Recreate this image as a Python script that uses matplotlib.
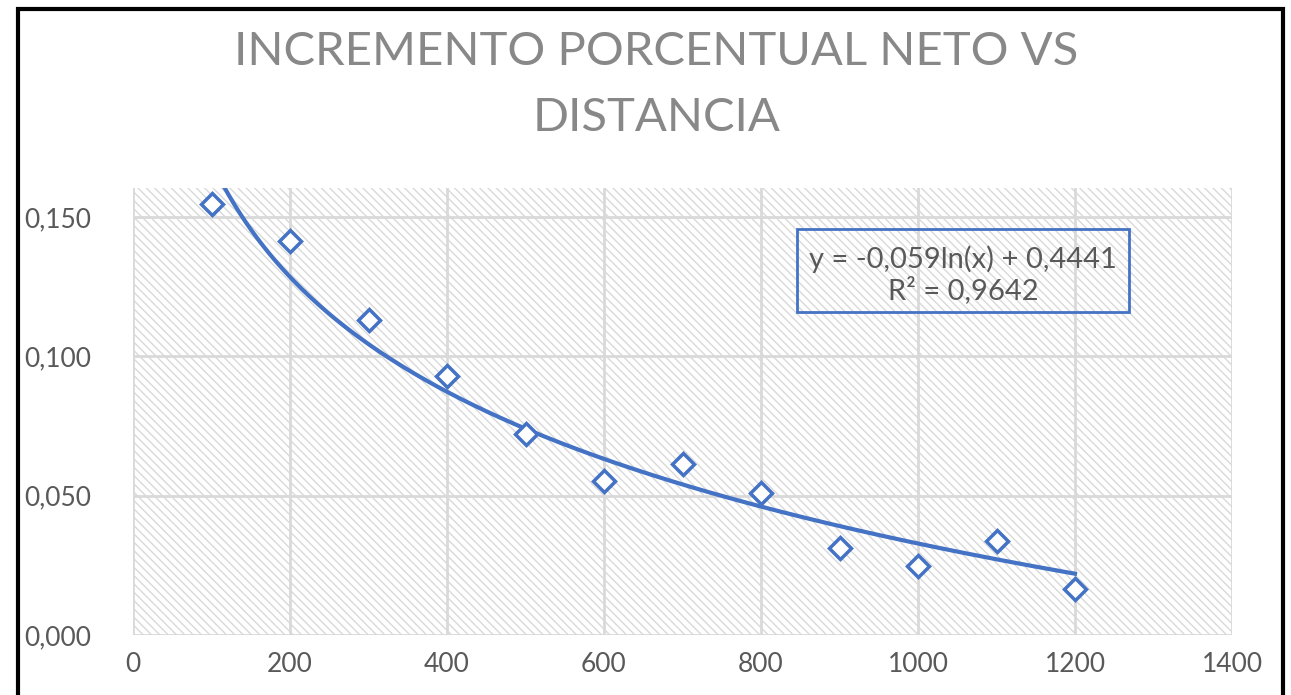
import numpy as np
import matplotlib
matplotlib.use("Agg")
import matplotlib.pyplot as plt
from matplotlib.patches import Rectangle
from matplotlib.ticker import FuncFormatter

# Data
distance = [100, 200, 300, 400, 500, 600, 700, 800, 900, 1000, 1100, 1200]
increment = [0.1547, 0.1414, 0.1131, 0.0930, 0.0721, 0.0553, 0.0614, 0.0510,
             0.0312, 0.0248, 0.0337, 0.0165]
title_line1 = "INCREMENTO PORCENTUAL NETO VS"
title_line2 = "DISTANCIA"
eq_text = "y = -0,059ln(x) + 0,4441\nR² = 0,9642"
x_ticks = [0, 200, 400, 600, 800, 1000, 1200, 1400]
y_ticks = [0.0, 0.05, 0.10, 0.15]

BLUE = "#4472c4"
GRID = "#d9d9d9"
TXT = "#595959"

plt.rcParams['font.family'] = ['Lato', 'DejaVu Sans']
plt.rcParams['hatch.color'] = "#dcdcdc"
plt.rcParams['hatch.linewidth'] = 1.0

fig = plt.figure(figsize=(12.91, 6.95), dpi=100)
fig.patch.set_facecolor("white")

# outer border
fig.patches.append(Rectangle((18/1291, -0.05), (1283-18)/1291, 1.05 - 9/695,
                             transform=fig.transFigure, fill=False,
                             edgecolor="black", linewidth=3))

ax = fig.add_axes([133/1291, 1 - 635/695, (1232-133)/1291, (635-188)/695])
ax.set_xlim(0, 1400)
ax.set_ylim(0, 0.1604)

# hatched plot area
ax.add_patch(Rectangle((0, 0), 1, 1, transform=ax.transAxes, facecolor="white",
                       edgecolor=GRID, hatch="\\\\\\\\", linewidth=0, zorder=0))

for s in ax.spines.values():
    s.set_visible(False)
ax.set_xticks(x_ticks)
ax.set_yticks(y_ticks)
ax.grid(True, color=GRID, linewidth=2)
ax.set_axisbelow(True)
ax.tick_params(length=0, labelsize=19, labelcolor=TXT)
ax.tick_params(axis='y', pad=30)
ax.tick_params(axis='x', pad=12)
ax.yaxis.set_major_formatter(FuncFormatter(lambda v, p: f"{v:.3f}".replace(".", ",")))

# logarithmic trendline fitted to the data
x = np.array(distance, dtype=float)
y = np.array(increment)
a, b = np.polyfit(np.log(x), y, 1)
xt = np.linspace(100, 1200, 300)
ax.plot(xt, a*np.log(xt) + b, color=BLUE, linewidth=3, zorder=3, clip_on=True)

ax.plot(distance, increment, linestyle="none", marker="D", markersize=11,
        markerfacecolor="white", markeredgecolor=BLUE, markeredgewidth=2.5, zorder=4)

# equation box
fig.text((797+1129)/2/1291, 1 - 275/695, eq_text, ha="center", va="center",
         fontsize=21, color=TXT, linespacing=1.15)
fig.patches.append(Rectangle((797/1291, 1 - 312/695), (1129-797)/1291, (312-229)/695,
                             transform=fig.transFigure, fill=False,
                             edgecolor=BLUE, linewidth=2))

fig.text(656/1291, 1 - 52/695, title_line1, ha="center", va="center",
         fontsize=34, color="#888888")
fig.text(657/1291, 1 - 118/695, title_line2, ha="center", va="center",
         fontsize=34, color="#888888")

fig.savefig("out.png", dpi=100)
